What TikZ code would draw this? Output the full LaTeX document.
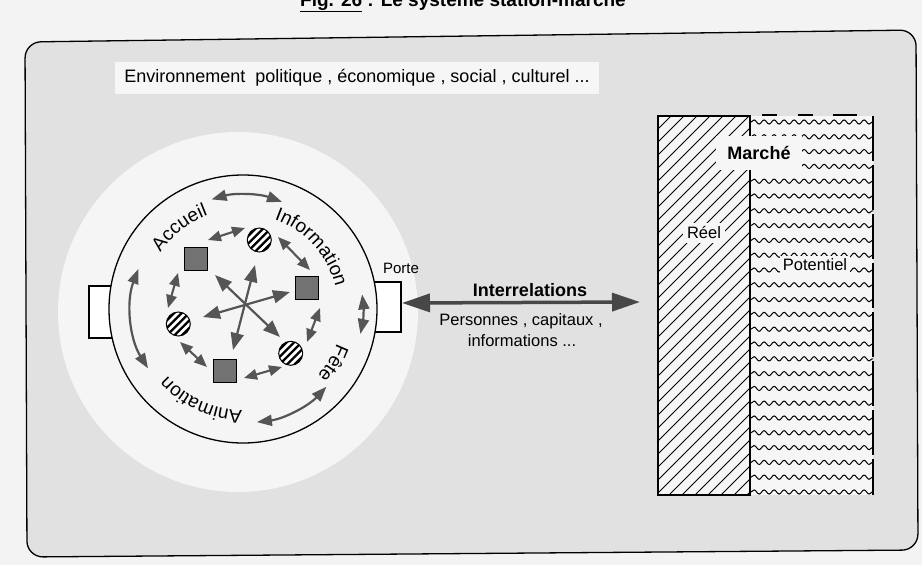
\documentclass[tikz,border=0pt]{standalone}
\usepackage{fontspec}
\setmainfont{Liberation Sans}
\usetikzlibrary{arrows.meta,decorations.text,decorations.pathmorphing}
\definecolor{pagebg}{HTML}{F3F3F3}
\definecolor{framebg}{HTML}{E1E1E1}
\definecolor{halo}{HTML}{F5F5F5}
\definecolor{boxbg}{HTML}{F6F6F6}
\definecolor{arrowgray}{HTML}{555555}
\definecolor{sqgray}{HTML}{727272}
\newcommand{\fsz}[1]{\fontsize{#1}{#1}\selectfont}
\newcommand{\ringfont}{\fontsize{19}{19}\selectfont}
\tikzset{
  ringarrow/.style={draw=arrowgray, line width=2.1pt, {Triangle[length=13pt,width=10.5pt]}-{Triangle[length=13pt,width=10.5pt]}},
  crossarrow/.style={draw=arrowgray, line width=2.2pt, {Triangle[length=17pt,width=13pt]}-{Triangle[length=17pt,width=13pt]}},
  outerarrow/.style={draw=arrowgray, line width=2.2pt, {Triangle[length=15pt,width=11pt]}-{Triangle[length=15pt,width=11pt]}},
  bigarrow/.style={draw=black!72, line width=3.5pt, {Triangle[length=28pt,width=18pt]}-{Triangle[length=28pt,width=18pt]}},
  sqnode/.style={draw=black, line width=0.9pt, fill=sqgray, minimum size=23pt, inner sep=0pt},
  stripenode/.style={circle, draw=black, line width=1pt, fill=white, minimum size=24pt, inner sep=0pt,
    path picture={\foreach \k in {-3,...,3}{\draw[line width=2.3pt] ([xshift=\k*7.5pt]path picture bounding box.center) ++(-15pt,-15pt) -- ++(30pt,30pt);}}},
  ringlabel/.style={decorate, decoration={text along path, text align=center, text={|\ringfont|#1}}},
  wave/.style={line width=1pt, decorate, decoration={snake, segment length=10pt, amplitude=2.1pt}},
  labelbox/.style={fill=boxbg, inner sep=4pt},
}
\begin{document}
\begin{tikzpicture}[x=1pt,y=-1pt]
\useasboundingbox (0,0) rectangle (922,565);
\clip (0,0) rectangle (922,565);
\fill[pagebg] (0,0) rectangle (922,565);
% title
\node[anchor=base, font=\bfseries\fsz{19}, inner sep=0pt] (title) at (463,6) {\underline{Fig. 26} : Le système station-marché};
% frame
\draw[line width=1.3pt, fill=framebg, rounded corners=16pt] (470,36) -- (916,30) -- (918,550) -- (27,557) -- (25,42) -- cycle;
% halo
\fill[halo] (238,312) circle[radius=180];
% environment text
\node[labelbox, font=\fsz{18}, inner xsep=9pt, inner ysep=8pt] (env) at (357,78) {Environnement\ \ politique , économique , social , culturel ...};
% ports
\node[draw, line width=1.2pt, fill=white, minimum width=25pt, minimum height=52pt, inner sep=0pt] (portl) at (101.5,312) {};
\node[draw, line width=1.2pt, fill=white, minimum width=29pt, minimum height=50pt, inner sep=0pt] (porte) at (386.5,307) {};
% station circle
\node[circle, draw, line width=1.3pt, fill=halo, minimum size=268pt, inner sep=0pt] (station) at (243,309) {};
\node[font=\fsz{15}, inner sep=1pt] (portelbl) at (401,268) {Porte};
% ring labels and outer arrows
\begin{scope}[shift={(243,309)}, y=1pt]
  \path[ringlabel={Accueil}] (170:100) arc[start angle=170, end angle=86, radius=100];
  \path[ringlabel={Information}] (94:95) arc[start angle=94, end angle=-10, radius=95];
  \path[ringlabel={Fête}] (10:100) arc[start angle=10, end angle=-72, radius=100];
  \path[ringlabel={Animation}] (-62:101) arc[start angle=-62, end angle=-167, radius=101];
  \draw[outerarrow] (106:114) arc[start angle=106, end angle=70, radius=114];
  \draw[outerarrow] (7:120) arc[start angle=7, end angle=-12, radius=120];
  \draw[outerarrow] (-43:114) arc[start angle=-43, end angle=-83, radius=114];
  \draw[outerarrow] (159:112) arc[start angle=159, end angle=212, radius=112];
\end{scope}
% inner elements
\node[sqnode] (s1) at (196,259) {};
\node[sqnode] (s2) at (306.5,288) {};
\node[sqnode] (s3) at (224.7,370.5) {};
\node[stripenode] (c1) at (259.3,240) {};
\node[stripenode] (c2) at (178.3,324) {};
\node[stripenode] (c3) at (290.7,353.3) {};
% arrow end points
\coordinate (a1s) at (208,240); \coordinate (a1e) at (245,228);
\coordinate (a2s) at (278,237); \coordinate (a2e) at (310,270);
\coordinate (a3s) at (320,308); \coordinate (a3e) at (307,342);
\coordinate (a4s) at (282,367); \coordinate (a4e) at (244,378);
\coordinate (a5s) at (207,367); \coordinate (a5e) at (180,342);
\coordinate (a6s) at (168,308); \coordinate (a6e) at (178,273);
\coordinate (x1s) at (215,275); \coordinate (x1e) at (280,337);
\coordinate (x2s) at (255,265); \coordinate (x2e) at (233,350);
\coordinate (x3s) at (203,317); \coordinate (x3e) at (290,292);
\foreach \a in {a1,a2,a3,a4,a5,a6} \draw[ringarrow] (\a s) -- (\a e);
\foreach \a in {x1,x2,x3} \draw[crossarrow] (\a s) -- (\a e);
% market
\fill[boxbg] (658,116) rectangle (873,495);
\begin{scope}
  \clip (658,116) rectangle (750,495);
  \foreach \k in {0,...,38} \draw[line width=0.9pt] (279+\k*13,495) -- ++(400,-400);
\end{scope}
\foreach \k in {0,...,25} \draw[wave] (751,122+\k*14.8) -- (873,122+\k*14.8);
\draw[line width=1.1pt, dash pattern=on 45pt off 4pt] (873,116) -- (873,495);
\draw[line width=1.3pt] (762,115) -- (777,115) (798,115) -- (813,115) (833,115) -- (857,115);
\node[draw, line width=1.2pt, minimum width=92pt, minimum height=379pt, inner sep=0pt] (reel) at (704,305.5) {};
\node[labelbox, font=\bfseries\fsz{18}, inner xsep=11pt, inner ysep=10pt] (marche) at (759,153) {Marché};
\node[labelbox, font=\fsz{16.5}] (reeltxt) at (704,233) {Réel};
\node[labelbox, font=\fsz{16.5}, inner sep=3pt] (pot) at (815,265) {Potentiel};
% interrelations
\coordinate (ia) at (402,303);
\coordinate (ib) at (640,302);
\draw[bigarrow] (ia) -- (ib);
\node[font=\bfseries\fsz{18}, inner sep=1pt] (inter) at (530,290) {Interrelations};
\node[font=\fsz{16.5}, inner sep=1pt] (pers) at (521,321) {Personnes , capitaux ,};
\node[font=\fsz{16.5}, inner sep=1pt] (info) at (522,341) {informations ...};
\end{tikzpicture}
\end{document}
